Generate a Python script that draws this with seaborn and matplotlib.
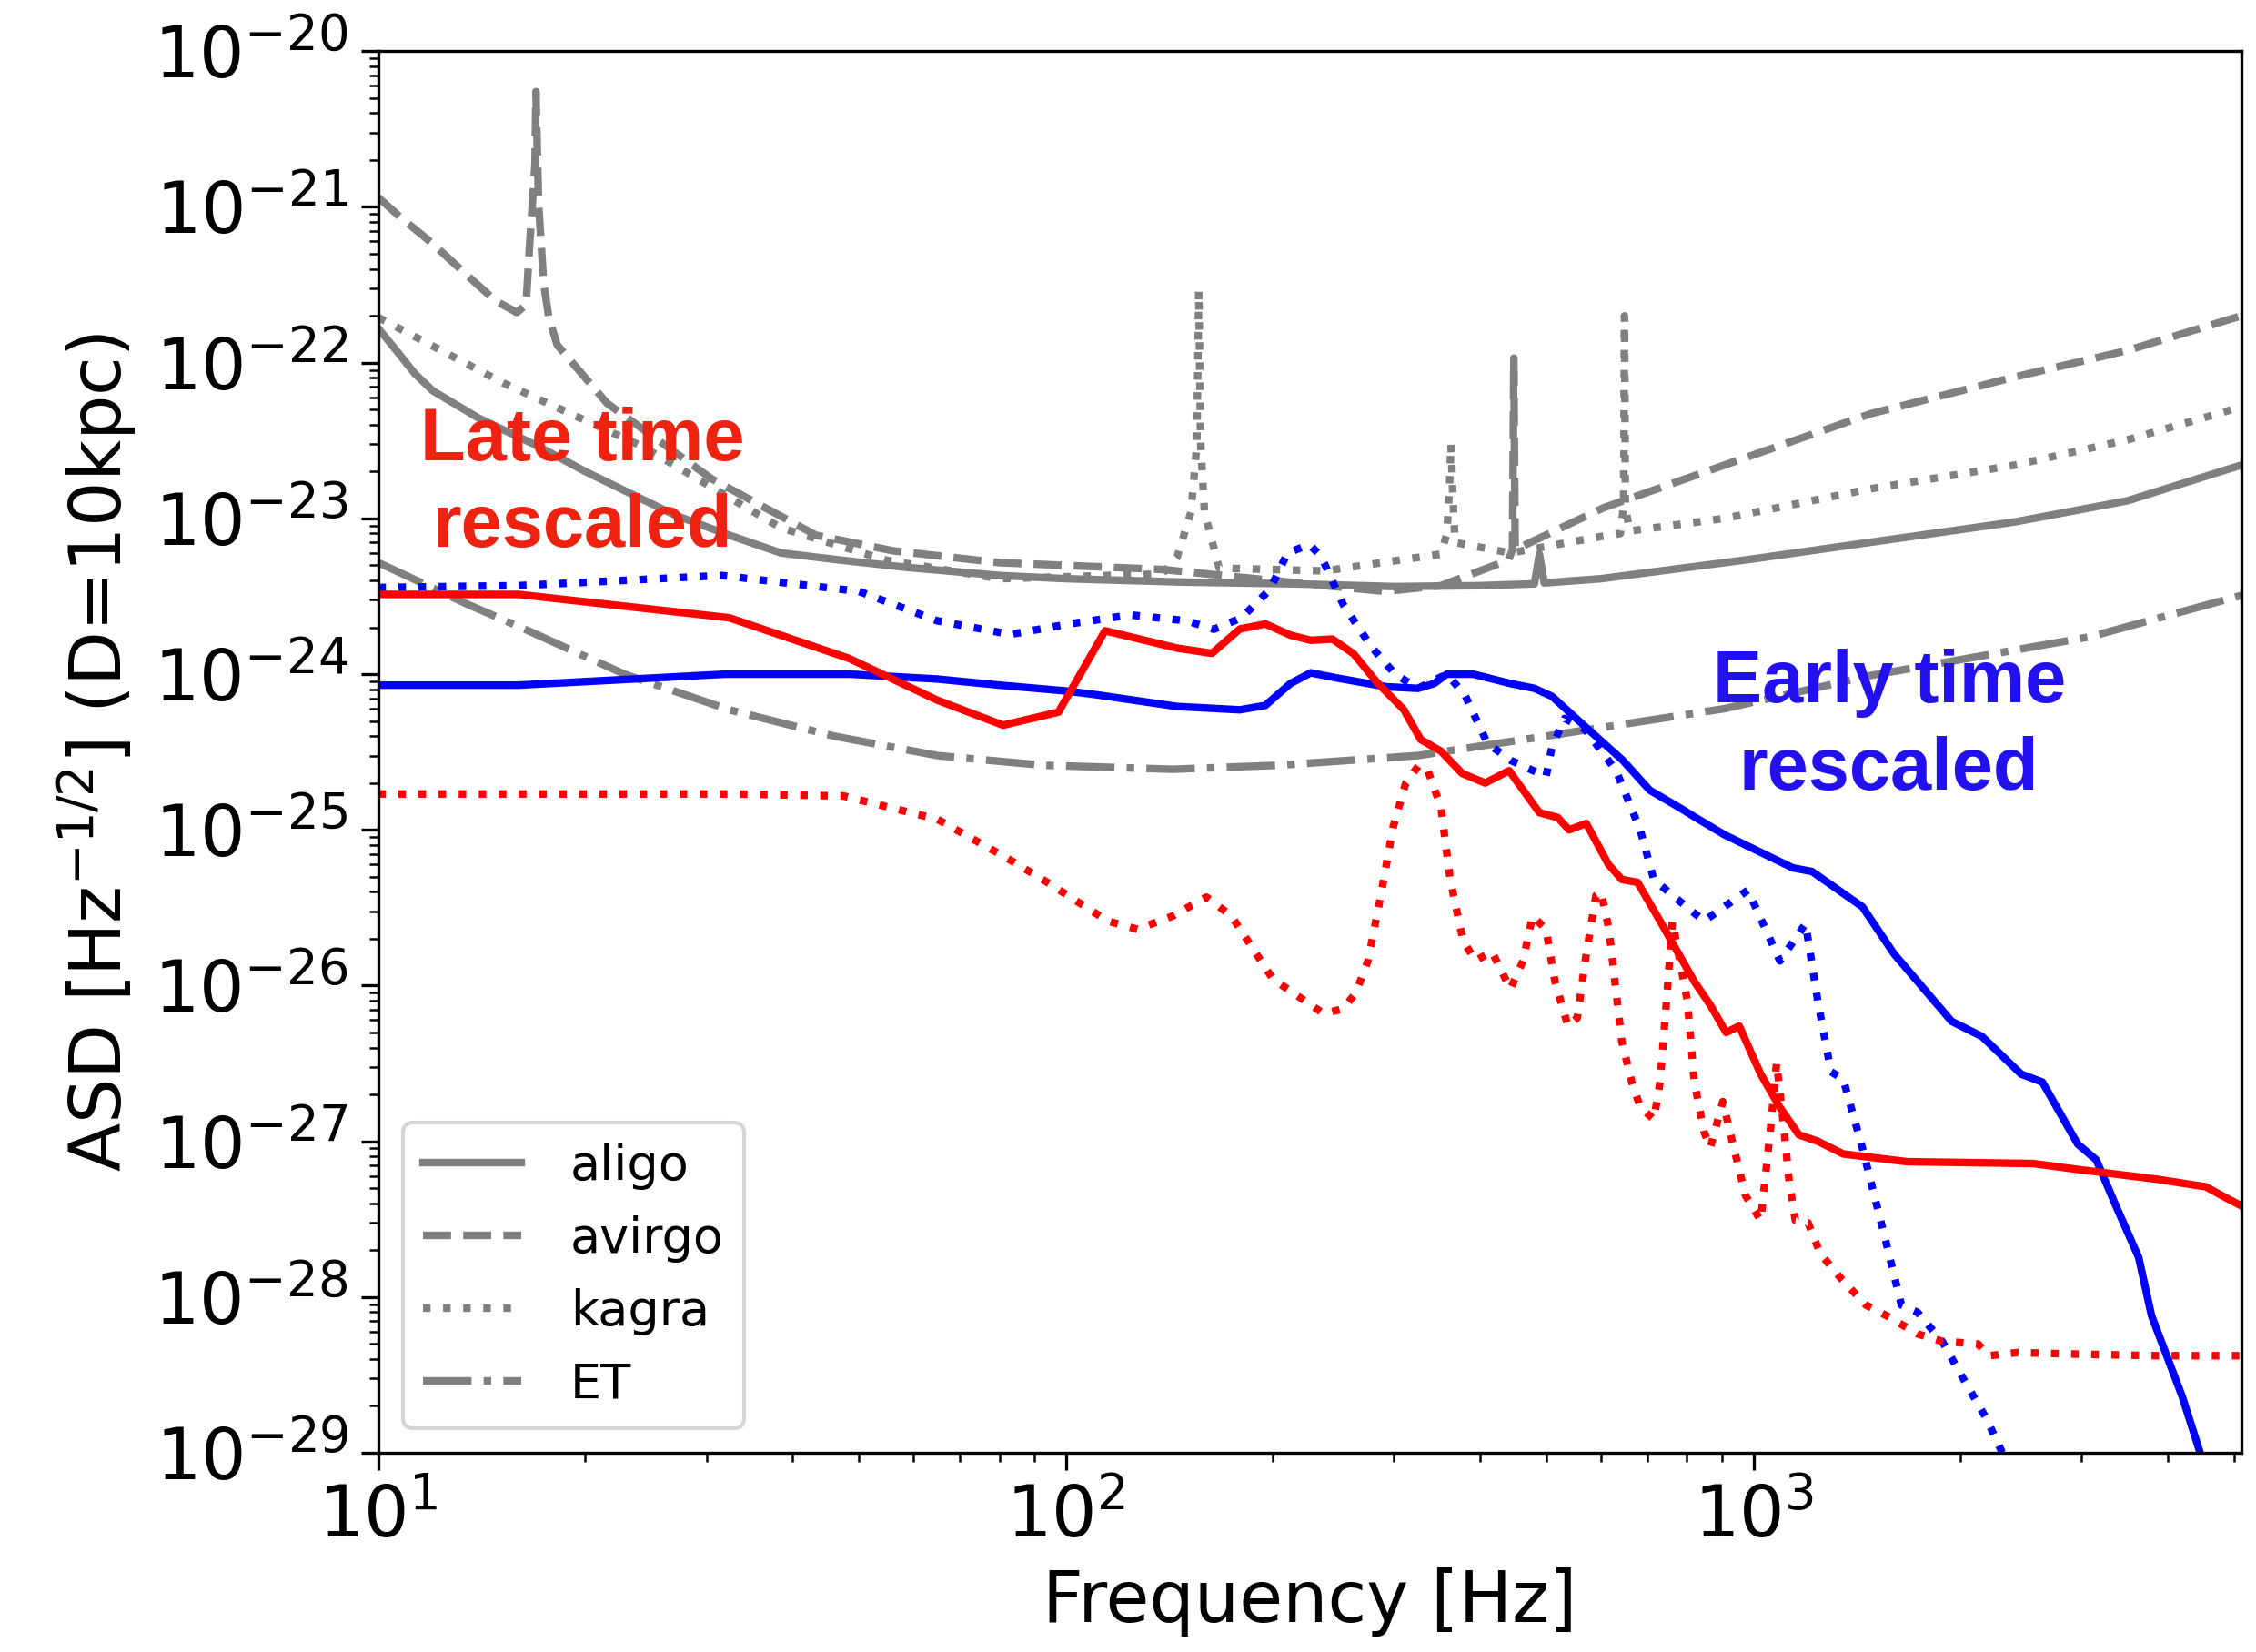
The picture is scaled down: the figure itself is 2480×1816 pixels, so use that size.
import matplotlib
matplotlib.use("Agg")
import matplotlib.pyplot as plt
import seaborn as sns

# detector sensitivity curves
aligo_f = [10, 10.7, 11.3, 12, 14, 17.1, 20, 27, 32.4, 38.5, 47, 58.6, 80, 100, 148, 215, 300,
           400, 480, 488, 496, 600, 908, 1000, 1470, 2400, 3500, 5120]
aligo = [1.66e-22, 1.15e-22, 8.5e-23, 6.6e-23, 4.4e-23, 2.9e-23, 2.0e-23, 1.05e-23, 7.8e-24,
         6.0e-24, 5.4e-24, 4.85e-24, 4.3e-24, 4.1e-24, 3.9e-24, 3.8e-24, 3.65e-24, 3.7e-24,
         3.8e-24, 5.9e-24, 3.85e-24, 4.1e-24, 5.2e-24, 5.5e-24, 7.0e-24, 9.5e-24, 1.3e-23, 2.2e-23]

avirgo_f = [10, 10.7, 12, 13.5, 14.8, 15.9, 16.4, 16.6, 16.9, 16.95, 17.1, 17.4, 17.7, 18.2,
            21.5, 30.5, 43.3, 56, 80, 138, 238, 291, 351, 440, 446, 448, 450, 460, 605, 907,
            1480, 2400, 3500, 5120]
avirgo = [1.15e-21, 8.8e-22, 5.8e-22, 3.6e-22, 2.5e-22, 2.1e-22, 2.35e-22, 5.8e-22, 1.9e-21,
          5.5e-21, 1.05e-21, 3.2e-22, 1.95e-22, 1.3e-22, 5.5e-23, 1.8e-23, 7.8e-24, 6.2e-24,
          5.2e-24, 4.7e-24, 3.7e-24, 3.4e-24, 3.7e-24, 5.4e-24, 6.3e-24, 1.07e-22, 6.4e-24,
          6.6e-24, 1.17e-23, 2.2e-23, 4.7e-23, 8.1e-23, 1.2e-22, 2.0e-22]

kagra_f = [10, 15.2, 24.2, 38.5, 54.7, 80, 138, 145, 152, 155, 156, 157, 159, 167, 238, 351,
           358, 361, 363, 365, 368, 443, 605, 640, 647, 649, 651, 660, 907, 1480, 2400, 3500, 5120]
kagra = [1.95e-22, 7.4e-23, 2.9e-23, 8.7e-24, 5.4e-24, 4.1e-24, 4.4e-24, 5.6e-24, 1.1e-23,
         3.0e-23, 2.9e-22, 3.0e-23, 1.1e-23, 4.8e-24, 4.6e-24, 5.9e-24, 8.0e-24, 1.5e-23,
         3.0e-23, 1.5e-23, 7.0e-24, 6.0e-24, 7.7e-24, 8.0e-24, 1.2e-23, 2.0e-22, 1.2e-23,
         8.3e-24, 1.0e-23, 1.55e-23, 2.2e-23, 3.2e-23, 5.2e-23]

et_f = [10, 10.4, 13.5, 16.1, 22.8, 32.4, 46, 65, 92.5, 143, 204, 325, 518, 907, 1480, 3090, 5120]
et = [5.2e-24, 4.8e-24, 2.8e-24, 2.0e-24, 1.0e-24, 5.9e-25, 4.0e-25, 3.0e-25, 2.6e-25,
      2.45e-25, 2.6e-25, 3.0e-25, 4.1e-25, 6.0e-25, 9.8e-25, 1.74e-24, 3.2e-24]

# early time rescaled (blue)
early_f = [10, 16, 32, 48.5, 65, 80, 100, 110, 145, 179, 195, 212, 227, 246, 292, 325, 343, 358,
           391, 443, 480, 509, 569, 645, 706, 778, 826, 907, 1140, 1216, 1440, 1600, 1940, 2150,
           2450, 2630, 2960, 3150, 3360, 3630, 3790, 4200, 4460, 4700]
early = [8.5e-25, 8.5e-25, 1.0e-24, 1.0e-24, 9.3e-25, 8.5e-25, 7.8e-25, 7.4e-25, 6.2e-25,
         5.9e-25, 6.3e-25, 8.7e-25, 1.02e-24, 9.5e-25, 8.3e-25, 8.1e-25, 8.7e-25, 1.0e-24,
         1.0e-24, 8.7e-25, 8.1e-25, 7.2e-25, 4.6e-25, 2.8e-25, 1.8e-25, 1.4e-25, 1.19e-25,
         9.3e-26, 5.7e-26, 5.4e-26, 3.2e-26, 1.6e-26, 5.9e-27, 4.7e-27, 2.7e-27, 2.4e-27,
         9.6e-28, 7.6e-28, 3.9e-28, 1.8e-28, 7.6e-29, 2.3e-29, 1.0e-29, 5.0e-30]

early_dot_f = [10, 16, 31.6, 50, 65, 83, 101, 124, 150, 164, 180, 198, 210, 226, 235, 253, 278,
               301, 325, 358, 380, 410, 443, 499, 509, 531, 569, 631, 684, 716, 762, 847, 981,
               1092, 1190, 1240, 1296, 1350, 1440, 1556, 1640, 1730, 1880, 2035, 2180, 2300, 2400]
early_dot = [3.6e-24, 3.7e-24, 4.3e-24, 3.4e-24, 2.2e-24, 1.8e-24, 2.1e-24, 2.4e-24, 2.2e-24,
             1.94e-24, 2.3e-24, 3.5e-24, 6.0e-24, 6.8e-24, 5.7e-24, 2.8e-24, 1.5e-24, 1.0e-24,
             8.1e-25, 1.0e-24, 7.4e-25, 3.6e-25, 2.8e-25, 2.2e-25, 3.4e-25, 5.2e-25, 4.4e-25,
             2.4e-25, 1.0e-25, 4.8e-26, 3.8e-26, 2.6e-26, 4.1e-26, 1.44e-26, 2.5e-26, 7.9e-27,
             2.8e-27, 2.5e-27, 9.0e-28, 2.3e-28, 8.9e-29, 8.0e-29, 5.2e-29, 2.8e-29, 1.66e-29,
             1.0e-29, 6.0e-30]

# late time rescaled (red)
late_f = [10, 16, 32.4, 48.4, 65, 81, 97.5, 114, 145, 163, 179, 195, 212, 227, 244, 262, 283,
          310, 328, 351, 377, 407, 441, 488, 519, 539, 571, 615, 643, 678, 731, 778, 820, 865,
          912, 953, 1024, 1092, 1164, 1240, 1350, 1670, 2550, 2960, 3870, 4550, 4745, 5270]
late = [3.25e-24, 3.25e-24, 2.3e-24, 1.26e-24, 6.8e-25, 4.7e-25, 5.7e-25, 1.9e-24, 1.47e-24,
        1.36e-24, 1.95e-24, 2.1e-24, 1.78e-24, 1.65e-24, 1.68e-24, 1.35e-24, 8.9e-25, 5.9e-25,
        3.8e-25, 3.2e-25, 2.3e-25, 2.0e-25, 2.4e-25, 1.29e-25, 1.2e-25, 1.0e-25, 1.1e-25,
        6.0e-26, 4.8e-26, 4.6e-26, 2.6e-26, 1.6e-26, 1.06e-26, 7.5e-27, 5.0e-27, 5.5e-27,
        2.7e-27, 1.65e-27, 1.1e-27, 1.0e-27, 8.3e-28, 7.4e-28, 7.2e-28, 6.6e-28, 5.7e-28,
        5.1e-28, 4.6e-28, 3.6e-28]

late_dot_f = [10, 16, 33, 47.5, 65, 82, 92.5, 115, 127, 143, 160, 174, 200, 237, 253, 264, 275,
              287, 299, 312, 326, 336, 351, 362, 378, 394, 416, 443, 462, 477, 499, 514, 537,
              554, 571, 590, 600, 616, 643, 665, 684, 716, 731, 747, 762, 801, 820, 847, 865,
              902, 933, 973, 1024, 1060, 1080, 1105, 1127, 1150, 1200, 1250, 1343, 1456, 1578,
              1730, 1880, 2120, 2200, 2420, 2960, 3870, 5270]
late_dot = [1.7e-25, 1.7e-25, 1.7e-25, 1.65e-25, 1.17e-25, 6.6e-26, 4.8e-26, 2.6e-26,
            2.3e-26, 2.8e-26, 3.7e-26, 2.8e-26, 1.1e-26, 6.6e-27, 7.1e-27, 9.0e-27, 1.45e-26,
            3.8e-26, 1.04e-25, 2.0e-25, 2.6e-25, 2.4e-25, 1.4e-25, 4.8e-26, 1.95e-26, 1.44e-26,
            1.66e-26, 9.5e-27, 1.44e-26, 2.8e-26, 2.3e-26, 1.07e-26, 5.5e-27, 6.2e-27, 1.6e-26,
            3.8e-26, 4.0e-26, 2.3e-26, 4.4e-27, 2.4e-27, 1.66e-27, 1.38e-27, 2.4e-27, 8.0e-27,
            2.6e-26, 8.0e-27, 2.4e-27, 1.15e-27, 9.1e-28, 1.8e-27, 9.6e-28, 4.5e-28, 3.1e-28,
            1.3e-27, 3.2e-27, 1.3e-27, 5.4e-28, 3.1e-28, 3.0e-28, 1.9e-28, 1.3e-28, 8.9e-29,
            7.4e-29, 5.8e-29, 5.2e-29, 5.0e-29, 4.2e-29, 4.4e-29, 4.3e-29, 4.2e-29, 4.2e-29]

fig = plt.figure(figsize=(2480 / 300, 1816 / 300), dpi=300)
ax = fig.add_axes([0.1677, 0.1206, 0.8258, 0.8484])

lw = 2
sns.lineplot(x=aligo_f, y=aligo, ax=ax, color='gray', lw=lw, ls='-', label='aligo', sort=False, estimator=None)
sns.lineplot(x=avirgo_f, y=avirgo, ax=ax, color='gray', lw=lw, ls='--', label='avirgo', sort=False, estimator=None)
sns.lineplot(x=kagra_f, y=kagra, ax=ax, color='gray', lw=lw, ls=':', label='kagra', sort=False, estimator=None)
sns.lineplot(x=et_f, y=et, ax=ax, color='gray', lw=lw, ls='-.', label='ET', sort=False, estimator=None)

sns.lineplot(x=early_f, y=early, ax=ax, color='blue', lw=lw, ls='-', sort=False, estimator=None)
sns.lineplot(x=early_dot_f, y=early_dot, ax=ax, color='blue', lw=lw, ls=':', sort=False, estimator=None)
sns.lineplot(x=late_f, y=late, ax=ax, color='red', lw=lw, ls='-', sort=False, estimator=None)
sns.lineplot(x=late_dot_f, y=late_dot, ax=ax, color='red', lw=lw, ls=':', sort=False, estimator=None)

ax.set_xscale('log')
ax.set_yscale('log')
ax.set_xlim(10, 5120)
ax.set_ylim(1e-29, 1e-20)

fs = 18.7
ax.set_xlabel('Frequency [Hz]', fontsize=fs)
ax.set_ylabel(r'ASD [Hz$^{-1/2}$] (D=10kpc)', fontsize=fs)
ax.tick_params(axis='both', which='major', labelsize=fs, length=4.5)
ax.tick_params(axis='both', which='minor', length=2.5)
ax.yaxis.set_minor_locator(matplotlib.ticker.LogLocator(base=10, subs=range(2, 10), numticks=100))

ax.text(19.8, 1.65e-23, 'Late time\nrescaled', color='#ee2211', fontsize=19.5,
        fontweight='bold', family='Liberation Sans', ha='center', va='center', linespacing=1.33)
ax.text(1574, 4.6e-25, 'Early time\nrescaled', color='#2211ee', fontsize=19.5,
        fontweight='bold', family='Liberation Sans', ha='center', va='center', linespacing=1.33)

ax.legend(loc='lower left', fontsize=13, handletextpad=1.0, labelspacing=0.52)

fig.savefig('out.png', dpi=300)
